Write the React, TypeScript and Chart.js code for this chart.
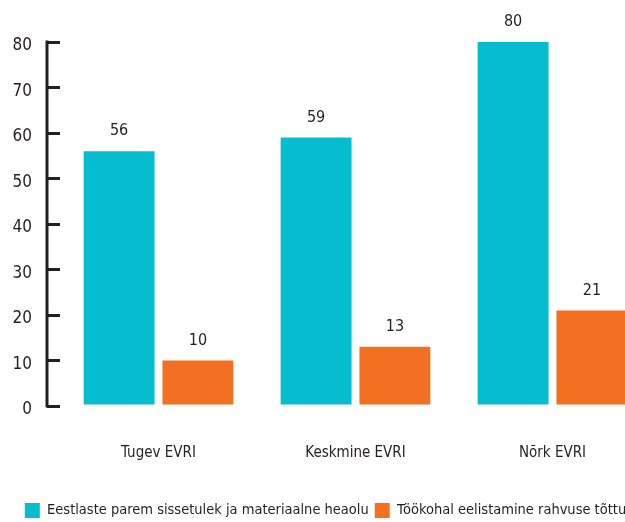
import React, { useEffect, useRef } from "react";
import { Chart, registerables } from "chart.js";

Chart.register(...registerables);

const categories = ["Tugev EVRI", "Keskmine EVRI", "Nõrk EVRI"];
const seriesNames = [
  "Eestlaste parem sissetulek ja materiaalne heaolu",
  "Töökohal eelistamine rahvuse tõttu",
];
const incomeValues = [56, 59, 80];
const jobValues = [10, 13, 21];
const yTicks = [0, 10, 20, 30, 40, 50, 60, 70, 80];

const FONT = "'DejaVu Sans Condensed', 'Liberation Sans Narrow', sans-serif";
const INK = "#231F20";
const CYAN = "#06BCCF";
const ORANGE = "#F37022";

const axisLinePlugin = {
  id: "axisLine",
  afterDraw(chart: any) {
    const { ctx, chartArea, scales } = chart;
    const y = scales.y;
    const x = chartArea.left - 13;
    ctx.save();
    ctx.strokeStyle = INK;
    ctx.lineWidth = 3;
    ctx.beginPath();
    ctx.moveTo(x, y.getPixelForValue(80) - 1.5);
    ctx.lineTo(x, y.getPixelForValue(0) + 1.5);
    ctx.stroke();
    ctx.restore();
  },
};

const valueLabelPlugin = {
  id: "valueLabels",
  afterDatasetsDraw(chart: any) {
    const { ctx } = chart;
    ctx.save();
    ctx.fillStyle = INK;
    ctx.font = `16px ${FONT}`;
    ctx.textAlign = "center";
    ctx.textBaseline = "bottom";
    chart.data.datasets.forEach((ds: any, i: number) => {
      const meta = chart.getDatasetMeta(i);
      meta.data.forEach((el: any, j: number) => {
        ctx.fillText(String(ds.data[j]), el.x, el.y - 12);
      });
    });
    ctx.restore();
  },
};

export default function App() {
  const ref = useRef<HTMLCanvasElement>(null);
  useEffect(() => {
    if (!ref.current) return;
    const chart = new Chart(ref.current, {
      type: "bar",
      data: {
        labels: categories,
        datasets: [
          { label: seriesNames[0], data: incomeValues, backgroundColor: CYAN },
          { label: seriesNames[1], data: jobValues, backgroundColor: ORANGE },
        ],
      },
      plugins: [axisLinePlugin, valueLabelPlugin],
      options: {
        animation: false,
        responsive: false,
        maintainAspectRatio: false,
        layout: { padding: { top: 42, left: 0, right: 0, bottom: -6 } },
        plugins: {
          tooltip: { enabled: false },
          legend: {
            position: "bottom",
            labels: {
              boxWidth: 15,
              boxHeight: 15,
              padding: 6,
              color: INK,
              font: { family: FONT, size: 14.5 },
            },
          },
        },
        scales: {
          x: {
            grid: { display: false },
            border: { display: false },
            afterFit(scale: any) {
              scale.height = 91;
            },
            ticks: {
              color: INK,
              padding: 30,
              font: { family: FONT, size: 15 },
            },
          },
          y: {
            min: 0,
            max: 80,
            afterFit(scale: any) {
              scale.width = 60;
            },
            afterBuildTicks(scale: any) {
              scale.ticks = yTicks.map((v) => ({ value: v }));
            },
            grid: {
              drawOnChartArea: false,
              drawTicks: true,
              tickLength: 13,
              lineWidth: 3,
              color: INK,
            },
            border: { display: false },
            ticks: {
              color: INK,
              padding: 15,
              labelOffset: 4,
              font: { family: FONT, size: 17 },
            },
          },
        },
      },
    });
    return () => chart.destroy();
  }, []);
  return (
    <div
      style={{
        position: "fixed",
        top: 0,
        left: 0,
        width: 625,
        height: 522,
        overflow: "hidden",
        background: "#fff",
      }}
    >
      <canvas ref={ref} width={651} height={522} style={{ display: "block" }} />
    </div>
  );
}
